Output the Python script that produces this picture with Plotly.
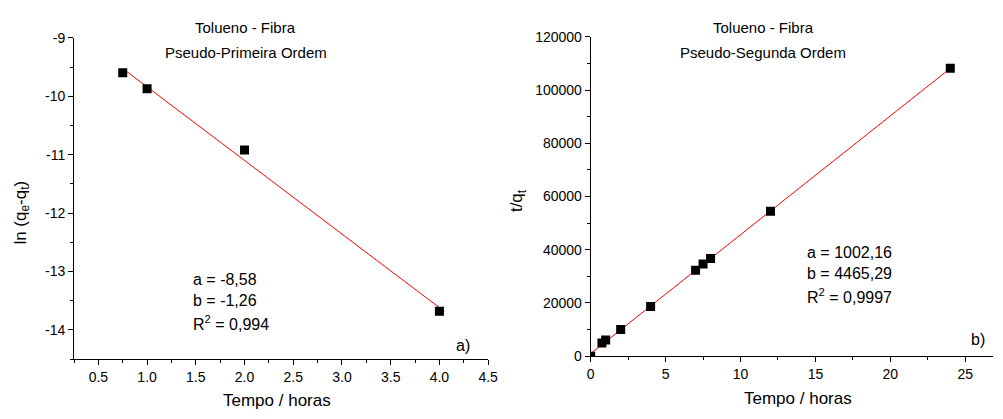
import plotly.graph_objects as go

# Pseudo-first order: ln(qe - qt) vs time
t1 = [0.75, 1.0, 2.0, 4.0]
ln_q = [-9.60, -9.87, -10.92, -13.68]
a1, b1 = -8.58, -1.26
fit1_t = [0.75, 4.05]
ln_ticks = [-14, -13, -12, -11, -10, -9]
ln_tick_labels = ["-14", "-13", "-12", "-11", "-10", "-9"]

# Pseudo-second order: t/qt vs time
t2 = [0.0, 0.75, 1.0, 2.0, 4.0, 7.0, 7.5, 8.0, 12.0, 24.0]
t_over_q = [0, 4950, 6100, 10050, 18700, 32300, 34600, 36750, 54500, 108200]
a2, b2 = 1002.16, 4465.29
fit2_t = [0.0, 24.0]

FONT = "Liberation Sans, Arial, sans-serif"
W, H = 1003, 419

fig = go.Figure()

fig.add_trace(go.Scatter(
    x=fit1_t, y=[a1 + b1 * t for t in fit1_t], mode="lines",
    line=dict(color="red", width=1), xaxis="x", yaxis="y", showlegend=False))
fig.add_trace(go.Scatter(
    x=t1, y=ln_q, mode="markers",
    marker=dict(symbol="square", size=9, color="black"),
    xaxis="x", yaxis="y", showlegend=False))

fig.add_trace(go.Scatter(
    x=fit2_t, y=[a2 + b2 * t for t in fit2_t], mode="lines",
    line=dict(color="red", width=1), xaxis="x2", yaxis="y2", showlegend=False))
fig.add_trace(go.Scatter(
    x=t2, y=t_over_q, mode="markers", cliponaxis=True,
    marker=dict(symbol="square", size=9, color="black"),
    xaxis="x2", yaxis="y2", showlegend=False))

axis_common = dict(
    showline=True, linecolor="black", linewidth=1, mirror=False,
    showgrid=False, zeroline=False, ticks="outside", ticklen=5,
    tickwidth=1, tickcolor="black",
    tickfont=dict(family=FONT, size=14, color="black"),
)

def minor(step):
    return dict(ticks="outside", ticklen=3, tickwidth=1, tickcolor="black", dtick=step, showgrid=False)

fig.update_layout(
    width=W, height=H,
    margin=dict(l=0, r=0, t=0, b=0),
    paper_bgcolor="white", plot_bgcolor="white",
    font=dict(family=FONT, color="black"),
    xaxis=dict(axis_common, domain=[71 / W, 491 / W], range=[0.25, 4.5],
               tick0=0.5, dtick=0.5, tickformat=".1f", minor=minor(0.25), anchor="y"),
    yaxis=dict(axis_common, domain=[(H - 365) / H, (H - 31) / H], range=[-14.5, -9],
               tickmode="array", tickvals=ln_ticks, ticktext=ln_tick_labels,
               minor=dict(minor(0.5), tick0=-14), anchor="x"),
    xaxis2=dict(axis_common, domain=[595 / W, 1.0], range=[0, 26.85],
                tick0=0, dtick=5, minor=minor(2.5), anchor="y2"),
    yaxis2=dict(axis_common, domain=[(H - 362) / H, (H - 30) / H], range=[0, 120000],
                tick0=0, dtick=20000, tickformat="d", minor=minor(10000), anchor="x2"),
)

def txt(x, y, s, xanchor="center", size=16, angle=0):
    fig.add_annotation(x=x / W, y=1 - y / H, xref="paper", yref="paper",
                       text=s, showarrow=False, xanchor=xanchor, yanchor="middle",
                       textangle=angle,
                       font=dict(family=FONT, size=size, color="black"))

# axis titles
txt(277, 408, "Tempo / horas", size=17)
txt(805, 406, "Tempo / horas", size=17)
txt(18, 213, "ln (q<sub>e</sub>-q<sub>t</sub>)", size=17, angle=-90)
txt(522, 200, "t/q<sub>t</sub>", size=17, angle=-90)

# panel titles
txt(245, 20, "Tolueno - Fibra", size=15)
txt(245, 46, "Pseudo-Primeira Ordem", size=15)
txt(770, 20, "Tolueno - Fibra", size=15)
txt(770, 46, "Pseudo-Segunda Ordem", size=15)

# fit parameters
txt(190, 282, f"a = {a1:.2f}".replace(".", ","), xanchor="left")
txt(190, 304, f"b = {b1:.2f}".replace(".", ","), xanchor="left")
txt(190, 327, "R<sup>2</sup> = 0,994", xanchor="left")

txt(812, 254, f"a = {a2:.2f}".replace(".", ","), xanchor="left")
txt(812, 276, f"b = {b2:.2f}".replace(".", ","), xanchor="left")
txt(812, 299, "R<sup>2</sup> = 0,9997", xanchor="left")

txt(466, 351, "a)")
txt(988, 345, "b)")

fig.write_html("out.html")
